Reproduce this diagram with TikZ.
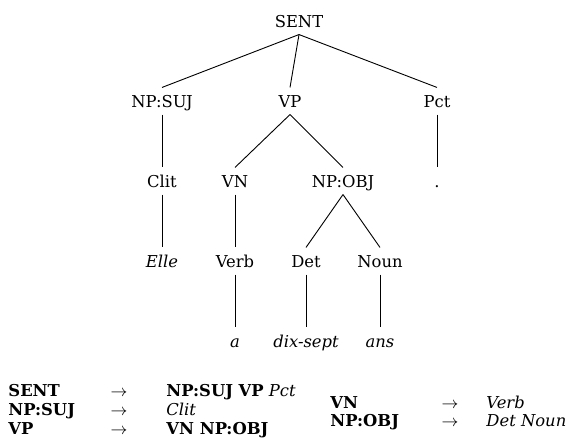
\documentclass[tikz,border=0pt]{standalone}
\usepackage{fontspec}
\setmainfont{DejaVu Serif}

\begin{document}
\begin{tikzpicture}[x=0.55pt,y=-0.55pt,line width=0.5pt,font=\fontsize{9}{11}\selectfont,
	cat/.style={inner xsep=1pt,inner ysep=3.7pt,text height=7pt,text depth=0pt},
	rule/.style={anchor=base west,inner sep=0pt},
	arr/.style={anchor=base,inner sep=0pt}]
		\useasboundingbox (0,0) rectangle (573,443);
		% the tree
		\node[cat] (sent) at (299,21) {SENT};
		\node[cat] (npsuj) at (162,101) {NP:SUJ};
		\node[cat] (vp) at (290,101) {VP};
		\node[cat] (pct) at (437,101) {Pct};
		\node[cat] (clit) at (162,181) {Clit};
		\node[cat] (vn) at (235,181) {VN};
		\node[cat] (npobj) at (343,181) {NP:OBJ};
		\node[cat] (dot) at (437,181) {.};
		\node[cat] (elle) at (162,261) {\textit{Elle}};
		\node[cat] (verb) at (235,261) {Verb};
		\node[cat] (det) at (306,261) {Det};
		\node[cat] (noun) at (380,261) {Noun};
		\node[cat] (a) at (235,341) {\textit{a}};
		\node[cat] (dixsept) at (306,341) {\textit{dix-sept}};
		\node[cat] (ans) at (380,341) {\textit{ans}};
		\draw (sent.south) -- (npsuj.north);
		\draw (sent.south) -- (vp.north);
		\draw (sent.south) -- (pct.north);
		\draw (npsuj.south) -- (clit.north);
		\draw (vp.south) -- (vn.north);
		\draw (vp.south) -- (npobj.north);
		\draw (pct.south) -- (dot.north);
		\draw (clit.south) -- (elle.north);
		\draw (vn.south) -- (verb.north);
		\draw (npobj.south) -- (det.north);
		\draw (npobj.south) -- (noun.north);
		\draw (verb.south) -- (a.north);
		\draw (det.south) -- (dixsept.north);
		\draw (noun.south) -- (ans.north);
		% the rules
		\node[rule] (lhsa) at (8,396) {\textbf{SENT}};
		\node[arr] (arra) at (119,396) {$\rightarrow$};
		\node[rule] (rhsa) at (166,396) {\textbf{NP:SUJ VP} \textit{Pct}};
		\node[rule] (lhsb) at (8,415) {\textbf{NP:SUJ}};
		\node[arr] (arrb) at (119,415) {$\rightarrow$};
		\node[rule] (rhsb) at (166,415) {\textit{Clit}};
		\node[rule] (lhsc) at (8,434) {\textbf{VP}};
		\node[arr] (arrc) at (119,434) {$\rightarrow$};
		\node[rule] (rhsc) at (166,434) {\textbf{VN NP:OBJ}};
		\node[rule] (lhsd) at (330,408) {\textbf{VN}};
		\node[arr] (arrd) at (450,408) {$\rightarrow$};
		\node[rule] (rhsd) at (486,408) {\textit{Verb}};
		\node[rule] (lhse) at (330,426) {\textbf{NP:OBJ}};
		\node[arr] (arre) at (450,426) {$\rightarrow$};
		\node[rule] (rhse) at (486,426) {\textit{Det Noun}};
\end{tikzpicture}
\end{document}
